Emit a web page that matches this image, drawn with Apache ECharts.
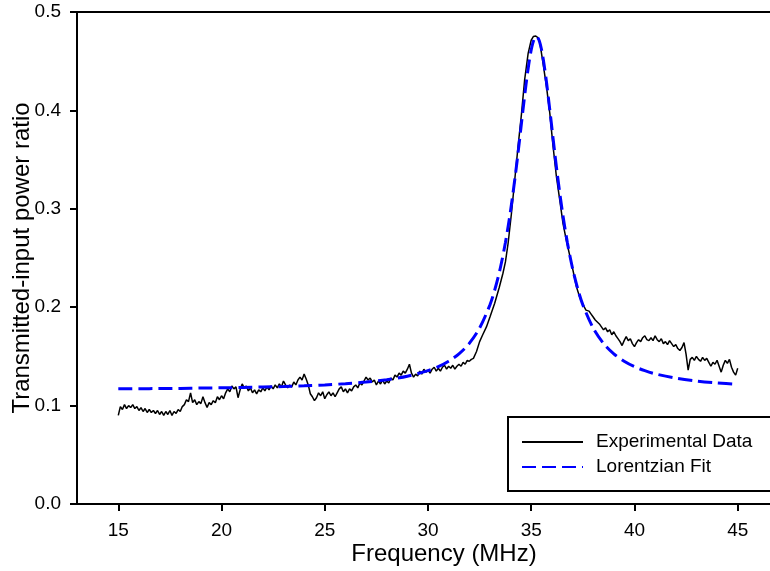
<!DOCTYPE html>
<html>
<head>
<meta charset="utf-8">
<script src="https://cdn.jsdelivr.net/npm/echarts@6/dist/echarts.min.js"></script>
<style>
html,body{margin:0;padding:0;background:#fff;}
#chart{width:770px;height:571px;}
</style>
</head>
<body>
<div id="chart"></div>
<script>
// ---- data ----
var xTicks = [15, 20, 25, 30, 35, 40, 45];
var yTicks = [0.0, 0.1, 0.2, 0.3, 0.4, 0.5];

var expFreq = [
15.0,15.1,15.2,15.3,15.4,15.5,15.6,15.7,15.8,15.9,
16.0,16.1,16.2,16.3,16.4,16.5,16.6,16.7,16.8,16.9,
17.0,17.1,17.2,17.3,17.4,17.5,17.6,17.7,17.8,17.9,
18.0,18.1,18.2,18.3,18.4,18.5,18.6,18.7,18.8,18.9,
19.0,19.1,19.2,19.3,19.4,19.5,19.6,19.7,19.8,19.9,
20.0,20.1,20.2,20.3,20.4,20.5,20.6,20.7,20.8,20.9,
21.0,21.1,21.2,21.3,21.4,21.5,21.6,21.7,21.8,21.9,
22.0,22.1,22.2,22.3,22.4,22.5,22.6,22.7,22.8,22.9,
23.0,23.1,23.2,23.3,23.4,23.5,23.6,23.7,23.8,23.9,
24.0,24.1,24.2,24.3,24.4,24.5,24.6,24.7,24.8,24.9,
25.0,25.1,25.2,25.3,25.4,25.5,25.6,25.7,25.8,25.9,
26.0,26.1,26.2,26.3,26.4,26.5,26.6,26.7,26.8,26.9,
27.0,27.1,27.2,27.3,27.4,27.5,27.6,27.7,27.8,27.9,
28.0,28.1,28.2,28.3,28.4,28.5,28.6,28.7,28.8,28.9,
29.0,29.1,29.2,29.3,29.4,29.5,29.6,29.7,29.8,29.9,
30.0,30.1,30.2,30.3,30.4,30.5,30.6,30.7,30.8,30.9,
31.0,31.1,31.2,31.3,31.4,31.5,31.6,31.7,31.8,31.9,
32.0,32.1,32.2,32.35,32.5,32.65,32.83,33.0,33.23,33.45,
33.63,33.75,33.88,34.04,34.2,34.36,34.53,34.68,34.85,35.0,
35.1,35.22,35.32,35.41,35.57,35.74,35.9,36.06,36.22,36.38,
36.54,36.7,36.95,37.19,37.35,37.5,37.65,37.8,37.9,38.0,
38.1,38.2,38.3,38.4,38.5,38.6,38.7,38.8,38.9,39.0,
39.1,39.2,39.3,39.4,39.5,39.6,39.7,39.8,39.9,40.0,
40.1,40.2,40.3,40.4,40.5,40.6,40.7,40.8,40.9,41.0,
41.1,41.2,41.3,41.4,41.5,41.6,41.7,41.8,41.9,42.0,
42.1,42.2,42.3,42.4,42.5,42.6,42.7,42.8,42.9,43.0,
43.1,43.2,43.3,43.4,43.5,43.6,43.7,43.8,43.9,44.0,
44.1,44.2,44.3,44.4,44.5,44.6,44.7,44.8,44.9,45.0
];
var expRatio = [
0.090,0.099,0.096,0.101,0.097,0.100,0.098,0.101,0.097,0.099,
0.095,0.098,0.094,0.097,0.093,0.096,0.093,0.095,0.092,0.095,
0.091,0.094,0.090,0.094,0.091,0.095,0.090,0.094,0.092,0.096,
0.094,0.099,0.101,0.106,0.104,0.113,0.103,0.106,0.101,0.104,
0.102,0.109,0.103,0.098,0.103,0.101,0.105,0.103,0.109,0.106,
0.110,0.107,0.113,0.117,0.114,0.120,0.117,0.119,0.108,0.116,
0.122,0.118,0.120,0.115,0.118,0.113,0.116,0.112,0.116,0.114,
0.118,0.115,0.119,0.116,0.120,0.117,0.121,0.118,0.122,0.119,
0.125,0.121,0.118,0.121,0.119,0.124,0.121,0.126,0.129,0.126,
0.132,0.127,0.121,0.112,0.109,0.105,0.108,0.113,0.110,0.114,
0.107,0.111,0.114,0.110,0.113,0.109,0.113,0.117,0.119,0.114,
0.117,0.113,0.117,0.115,0.119,0.121,0.118,0.123,0.121,0.125,
0.129,0.126,0.128,0.124,0.126,0.121,0.125,0.122,0.126,0.122,
0.125,0.123,0.128,0.126,0.131,0.129,0.133,0.131,0.135,0.133,
0.137,0.142,0.133,0.129,0.132,0.130,0.135,0.132,0.137,0.134,
0.136,0.133,0.137,0.139,0.135,0.138,0.135,0.139,0.141,0.137,
0.140,0.138,0.141,0.137,0.140,0.142,0.140,0.144,0.142,0.146,
0.145,0.147,0.148,0.155,0.165,0.172,0.180,0.190,0.204,0.220,
0.2345,0.246,0.265,0.295,0.329,0.363,0.397,0.431,0.458,0.4715,
0.475,0.4756,0.474,0.470,0.448,0.424,0.397,0.363,0.3326,0.309,
0.285,0.268,0.2446,0.2208,0.210,0.203,0.197,0.196,0.193,0.190,
0.187,0.185,0.183,0.180,0.177,0.179,0.175,0.177,0.172,0.175,
0.171,0.168,0.165,0.161,0.166,0.170,0.166,0.168,0.163,0.160,
0.164,0.167,0.165,0.169,0.171,0.167,0.166,0.169,0.166,0.171,
0.167,0.165,0.168,0.163,0.165,0.162,0.166,0.163,0.160,0.162,
0.158,0.156,0.159,0.164,0.152,0.136,0.147,0.149,0.146,0.150,
0.147,0.145,0.149,0.146,0.148,0.144,0.140,0.144,0.142,0.146,
0.140,0.134,0.141,0.146,0.143,0.147,0.139,0.134,0.131,0.138
];

var fitFreq = [
15,16,17,18,19,20,21,22,23,24,25,26,27,28,29,30,30.5,31,31.5,32,32.5,33,
33.25,33.5,33.75,34,34.25,34.375,34.5,34.625,34.75,34.875,35,35.125,35.25,
35.375,35.5,35.625,35.75,35.875,36,36.125,36.25,36.5,36.75,37,37.25,37.5,
38,38.5,39,39.5,40,40.5,41,42,43,44,45
];
var fitRatio = [
0.1170,0.1172,0.1173,0.1175,0.1178,0.1181,0.1184,0.1189,0.1194,0.1201,0.1210,0.1223,0.1239,0.1263,0.1299,0.1355,0.1396,0.1451,0.1526,0.1632,0.1788,0.2024,
0.2189,0.2396,0.2657,0.2982,0.3374,0.3593,0.3821,0.4049,0.4268,0.4462,0.4616,0.4716,0.4750,
0.4716,0.4616,0.4462,0.4268,0.4049,0.3821,0.3593,0.3374,0.2982,0.2657,0.2396,0.2189,0.2024,
0.1788,0.1632,0.1526,0.1451,0.1396,0.1355,0.1323,0.1279,0.1250,0.1230,0.1216
];

var seriesNames = ['Experimental Data', 'Lorentzian Fit'];
var xTitle = 'Frequency (MHz)';
var yTitle = 'Transmitted-input power ratio';

// ---- build ----
function zip(a, b) { var r = []; for (var i = 0; i < a.length; i++) r.push([a[i], b[i]]); return r; }

var FONT = '"Liberation Sans", Arial, sans-serif';
var chart = echarts.init(document.getElementById('chart'), null, {renderer: 'canvas'});
chart.setOption({
  animation: false,
  backgroundColor: '#fff',
  grid: {
    left: 77, top: 12, bottom: 67, right: -9,
    show: true, borderColor: '#000', borderWidth: 2, backgroundColor: 'transparent',
    containLabel: false,
    outerBoundsMode: 'none'
  },
  legend: {
    orient: 'vertical',
    left: 508, top: 417,
    padding: [15, 30, 14, 13],
    itemGap: 5,
    itemWidth: 61, itemHeight: 14,
    borderColor: '#000', borderWidth: 2,
    backgroundColor: '#fff',
    itemStyle: { opacity: 0 },
    textStyle: { fontFamily: FONT, fontSize: 19, color: '#000', lineHeight: 20, padding: [0, 0, 0, 8] },
    data: seriesNames
  },
  xAxis: {
    type: 'value', min: 13, max: 47,
    name: xTitle, nameLocation: 'middle', nameGap: 38, nameMoveOverlap: false,
    nameTextStyle: { fontFamily: FONT, fontSize: 24, color: '#000', padding: [0, 0, 0, 32] },
    axisLine: { show: true, onZero: false, lineStyle: { color: '#000', width: 2 } },
    axisTick: { show: true, length: 7, inside: false, customValues: xTicks, lineStyle: { color: '#000', width: 2 } },
    axisLabel: { customValues: xTicks, margin: 17, fontFamily: FONT, fontSize: 19, color: '#000' },
    splitLine: { show: false }
  },
  yAxis: {
    type: 'value', min: 0, max: 0.5, interval: 0.1,
    name: yTitle, nameLocation: 'middle', nameGap: 43, nameRotate: 90, nameMoveOverlap: false,
    nameTextStyle: { fontFamily: FONT, fontSize: 24, color: '#000' },
    axisLine: { show: true, onZero: false, lineStyle: { color: '#000', width: 2 } },
    axisTick: { show: true, length: 7, inside: false, lineStyle: { color: '#000', width: 2 } },
    axisLabel: { margin: 16, fontFamily: FONT, fontSize: 19, color: '#000',
      formatter: function (v) { return v.toFixed(1); } },
    splitLine: { show: false }
  },
  series: [
    {
      name: seriesNames[0], type: 'line', data: zip(expFreq, expRatio),
      showSymbol: false, symbol: 'none', smooth: false,
      lineStyle: { color: '#000', width: 1.5 }, itemStyle: { color: '#000' },
      z: 2
    },
    {
      name: seriesNames[1], type: 'line', data: zip(fitFreq, fitRatio),
      showSymbol: false, symbol: 'none', smooth: 0.3,
      lineStyle: { color: '#0000ff', width: 3, type: [14, 6] }, itemStyle: { color: '#0000ff' },
      z: 3
    }
  ]
});
</script>
</body>
</html>
